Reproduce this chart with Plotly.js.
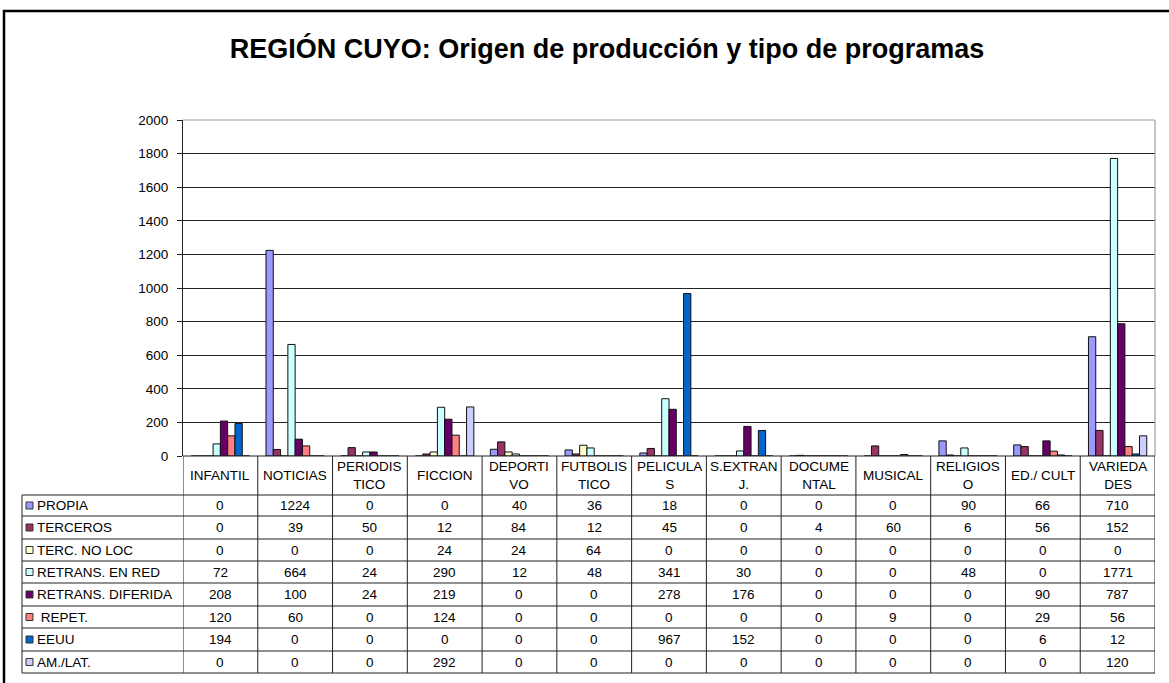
<!DOCTYPE html>
<html>
<head>
<meta charset="utf-8">
<script src="https://cdn.plot.ly/plotly-3.0.1.min.js"></script>
<style>
html,body{margin:0;padding:0;background:#fff;}
#chart{width:1169px;height:683px;}
</style>
</head>
<body>
<div id="chart"></div>
<script>
// ---- DATA ----
const categories = ['INFANTIL','NOTICIAS','PERIODISTICO','FICCION','DEPORTIVO','FUTBOLISTICO','PELICULAS','S.EXTRANJ.','DOCUMENTAL','MUSICAL','RELIGIOSO','ED./CULT','VARIEDADES'];
const categoryLabels = ['INFANTIL','NOTICIAS','PERIODIS<br>TICO','FICCION','DEPORTI<br>VO','FUTBOLIS<br>TICO','PELICULA<br>S','S.EXTRAN<br>J.','DOCUME<br>NTAL','MUSICAL','RELIGIOS<br>O','ED./ CULT','VARIEDA<br>DES'];
const seriesNames = ['PROPIA','TERCEROS','TERC. NO LOC','RETRANS. EN RED','RETRANS. DIFERIDA',' REPET.','EEUU','AM./LAT.'];
const propia        = [0,1224,0,0,40,36,18,0,0,0,90,66,710];
const terceros      = [0,39,50,12,84,12,45,0,4,60,6,56,152];
const tercNoLoc     = [0,0,0,24,24,64,0,0,0,0,0,0,0];
const retransEnRed  = [72,664,24,290,12,48,341,30,0,0,48,0,1771];
const retransDif    = [208,100,24,219,0,0,278,176,0,0,0,90,787];
const repet         = [120,60,0,124,0,0,0,0,0,9,0,29,56];
const eeuu          = [194,0,0,0,0,0,967,152,0,0,0,6,12];
const amLat         = [0,0,0,292,0,0,0,0,0,0,0,0,120];
const seriesValues = [propia,terceros,tercNoLoc,retransEnRed,retransDif,repet,eeuu,amLat];
const seriesColors = ['#9999FF','#993366','#FFFFCC','#CCFFFF','#660066','#FF8080','#0066CC','#CCCCFF'];
const yTicks = [0,200,400,600,800,1000,1200,1400,1600,1800,2000];

// ---- LAYOUT GEOMETRY (pixels -> paper) ----
const W = 1169, H = 683;
const ML = 183, MR = W - 1155, MT = 120, MB = H - 456;
const PW = W - ML - MR, PH = H - MT - MB;
const px = x => (x - ML) / PW;
const py = y => (H - MB - y) / PH;
const FONT = '"Liberation Sans", Arial, sans-serif';
const FS = 13.5;

const traces = seriesNames.map((n, i) => ({
  type: 'bar',
  name: n,
  x: categories,
  y: seriesValues[i],
  marker: {color: seriesColors[i], line: {color: '#111', width: 1}},
  hoverinfo: 'x+y+name'
}));

const shapes = [];
const annotations = [];

// outer frame
shapes.push({type:'rect', xref:'paper', yref:'paper', x0:px(4), x1:px(1180), y0:py(11), y1:py(700),
  line:{color:'#000', width:2.5}, fillcolor:'rgba(0,0,0,0)', layer:'below'});
// plot area border (gray top/right)
shapes.push({type:'line', xref:'paper', yref:'paper', x0:0, x1:1, y0:1, y1:1, line:{color:'#a0a0a0', width:1.2}});
shapes.push({type:'line', xref:'paper', yref:'paper', x0:1, x1:1, y0:0, y1:1, line:{color:'#a0a0a0', width:1.2}});

// table geometry
const headerTop = 456, headerBottom = 495;
const rowLines = [495, 516, 539, 561, 583, 606, 628, 651, 673];
const tableLeft = 22;
shapes.push({type:'line', xref:'paper', yref:'paper', x0:0, x1:1, y0:py(headerTop), y1:py(headerTop), line:{color:'#222', width:1}});
rowLines.forEach(y => {
  shapes.push({type:'line', xref:'paper', yref:'paper', x0:px(tableLeft), x1:1, y0:py(y), y1:py(y), line:{color:'#222', width:1}});
});
shapes.push({type:'line', xref:'paper', yref:'paper', x0:px(tableLeft), x1:px(tableLeft), y0:py(headerBottom), y1:py(673), line:{color:'#222', width:1}});
for (let i = 0; i <= categories.length; i++) {
  shapes.push({type:'line', xref:'x', yref:'paper', x0:i-0.5, x1:i-0.5, y0:py(headerTop), y1:py(673), line:{color:'#222', width:1}});
}

// header labels
categories.forEach((c, i) => {
  annotations.push({xref:'x', yref:'paper', x:c, y:py((headerTop+headerBottom)/2), text:categoryLabels[i],
    showarrow:false, xanchor:'center', yanchor:'middle', font:{family:FONT, size:FS, color:'#000'}});
});
// rows
seriesNames.forEach((n, r) => {
  const yc = (rowLines[r] + rowLines[r+1]) / 2;
  shapes.push({type:'rect', xref:'paper', yref:'paper', x0:px(26), x1:px(33), y0:py(yc-3.5), y1:py(yc+3.5),
    fillcolor:seriesColors[r], line:{color:'#333', width:1}});
  annotations.push({xref:'paper', yref:'paper', x:px(35), y:py(yc), text:n, showarrow:false,
    xanchor:'left', yanchor:'middle', font:{family:FONT, size:FS, color:'#000'}});
  seriesValues[r].forEach((v, i) => {
    annotations.push({xref:'x', yref:'paper', x:categories[i], y:py(yc), text:String(v), showarrow:false,
      xanchor:'center', yanchor:'middle', font:{family:FONT, size:FS, color:'#000'}});
  });
});

const layout = {
  width: W, height: H,
  margin: {l: ML, r: MR, t: MT, b: MB, pad: 0},
  paper_bgcolor: '#fff', plot_bgcolor: '#fff',
  showlegend: false,
  barmode: 'group', bargap: 0.22, bargroupgap: 0,
  title: {text: '<b>REGIÓN CUYO: Origen de producción y tipo de programas</b>',
    font: {family: FONT, size: 27, color: '#000'}, x: 607/W, xanchor: 'center', y: 1 - 49/H, yanchor: 'middle', xref:'container', yref:'container'},
  xaxis: {type:'category', categoryarray: categories, range:[-0.5, categories.length-0.5],
    showticklabels:false, ticks:'', showgrid:false, showline:false, zeroline:false, fixedrange:true},
  yaxis: {range:[0,2000], tickvals:yTicks, ticktext:yTicks.map(String), ticks:'outside', ticklen:5, tickcolor:'#222',
    showline:true, linecolor:'#222', linewidth:1, showgrid:true, gridcolor:'#222', gridwidth:1, zeroline:false,
    ticklabelstandoff: 6,
    tickfont:{family:FONT, size:FS, color:'#000'}, fixedrange:true},
  shapes: shapes,
  annotations: annotations,
  font: {family: FONT}
};

Plotly.newPlot('chart', traces, layout, {displayModeBar:false, staticPlot:true});
</script>
</body>
</html>
